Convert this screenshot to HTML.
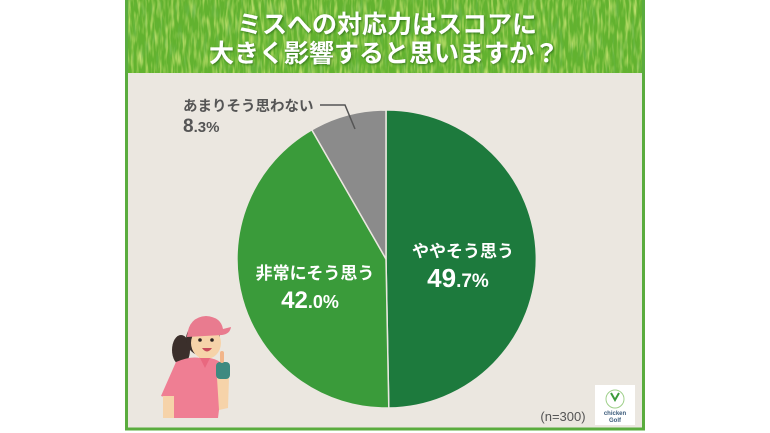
<!DOCTYPE html>
<html><head><meta charset="utf-8"><style>
html,body{margin:0;padding:0;background:#fff;}
svg{display:block;}
text{font-family:"Liberation Sans","Noto Sans CJK JP",sans-serif;font-weight:bold;}
</style></head><body>
<svg width="770" height="433" viewBox="0 0 770 433" xmlns="http://www.w3.org/2000/svg">
<defs>
<filter id="grass" x="0" y="0" width="100%" height="100%">
<feTurbulence type="fractalNoise" baseFrequency="0.35 0.06" numOctaves="2" seed="3" result="n"/>
<feColorMatrix in="n" type="matrix" values="0 0 0 0 0.72  0 0 0 0 0.86  0 0 0 0 0.22  1.8 0 0 0 -0.78" result="c"/>
<feComposite in="c" in2="SourceGraphic" operator="in"/>
</filter>
<filter id="grass2" x="0" y="0" width="100%" height="100%">
<feTurbulence type="fractalNoise" baseFrequency="0.25 0.05" numOctaves="2" seed="9" result="n"/>
<feColorMatrix in="n" type="matrix" values="0 0 0 0 0.15  0 0 0 0 0.48  0 0 0 0 0.1  1.5 0 0 0 -0.8" result="c"/>
<feComposite in="c" in2="SourceGraphic" operator="in"/>
</filter>
<filter id="ts" x="-10%" y="-20%" width="120%" height="150%">
<feDropShadow dx="1" dy="1" stdDeviation="1" flood-color="#1f5a10" flood-opacity="0.7"/>
</filter>
</defs>
<rect width="770" height="433" fill="#ffffff"/>
<!-- frame -->
<rect x="126.5" y="-2" width="517" height="431" fill="#ebe7e0" stroke="#5aac3e" stroke-width="3"/>
<!-- header grass -->
<rect x="128" y="0" width="514" height="73" fill="#62b22f"/>
<rect x="128" y="0" width="514" height="73" fill="#fff" filter="url(#grass)"/>
<rect x="128" y="0" width="514" height="73" fill="#fff" filter="url(#grass2)"/>
<text x="387" y="33" text-anchor="middle" font-size="25" fill="#ffffff" filter="url(#ts)">ミスへの対応力はスコアに</text>
<text x="384" y="62" text-anchor="middle" font-size="25" fill="#ffffff" filter="url(#ts)">大きく影響すると思いますか？</text>

<!-- pie -->
<g stroke="#ebe7e0" stroke-width="1.5" stroke-linejoin="round">
<path d="M386,259 L386,110 A149,149 0 0 1 388.8,408 Z" fill="#1d7a3d"/>
<path d="M386,259 L388.8,408 A149,149 0 0 1 311.77,129.8 Z" fill="#3a9b3a"/>
<path d="M386,259 L311.77,129.8 A149,149 0 0 1 386,110 Z" fill="#8b8b8b"/>
</g>

<!-- labels -->
<text x="463" y="257" text-anchor="middle" font-size="17" fill="#ffffff">ややそう思う</text>
<text x="458" y="287" text-anchor="middle" fill="#ffffff"><tspan font-size="26">49</tspan><tspan font-size="19">.7%</tspan></text>
<text x="315" y="279" text-anchor="middle" font-size="17" fill="#ffffff">非常にそう思う</text>
<text x="310" y="308" text-anchor="middle" fill="#ffffff"><tspan font-size="24">42</tspan><tspan font-size="18">.0%</tspan></text>

<text x="183" y="111" font-size="14.5" fill="#555555">あまりそう思わない</text>
<text x="183" y="132" fill="#555555"><tspan font-size="19">8</tspan><tspan font-size="15">.3%</tspan></text>
<polyline points="320,105 345,105 355,129" fill="none" stroke="#555555" stroke-width="1.5"/>

<text x="563" y="421" text-anchor="middle" font-size="13" style="font-weight:normal" fill="#555555">(n=300)</text>

<!-- logo -->
<rect x="595" y="385" width="40" height="40" fill="#ffffff"/>
<circle cx="615" cy="399" r="9" fill="none" stroke="#9fd08a" stroke-width="1"/>
<path d="M611,393 L615,400 L619,393" fill="none" stroke="#3b9b3a" stroke-width="2"/>
<text x="615" y="415" text-anchor="middle" font-size="6" fill="#3a5a7a">chicken</text>
<text x="615" y="422" text-anchor="middle" font-size="6" fill="#3a5a7a">Golf</text>

<!-- girl -->
<g>
<ellipse cx="181" cy="350" rx="9" ry="15" fill="#3b2f2b"/>
<circle cx="203" cy="339" r="17" fill="#3b2f2b"/>
<rect x="199" y="352" width="11" height="10" fill="#f3c79c"/>
<ellipse cx="206" cy="343" rx="15" ry="16" fill="#f6d3a9"/>
<path d="M187,336 Q189,317 206,316 Q221,317 223,329 L231,327 Q230,334 222,335 L187,337 Z" fill="#e97b8f"/>
<circle cx="200" cy="340" r="1.8" fill="#2b2220"/>
<circle cx="212" cy="340" r="1.8" fill="#2b2220"/>
<path d="M202,348 Q207,355 212,348 Z" fill="#c84a5a"/>
<path d="M176,362 Q190,356 200,358 L210,358 Q220,360 224,366 L222,385 L218,418 L168,418 L168,398 L161,396 Z" fill="#ef7e93"/>
<path d="M200,358 L205,368 L210,358 Z" fill="#e9687f"/>
<rect x="163" y="396" width="11" height="22" fill="#f6d3a9"/>
<path d="M217,378 L229,378 L228,408 L219,410 Z" fill="#f6d3a9"/>
<rect x="216" y="362" width="14" height="17" rx="4" fill="#3e8a80"/>
<rect x="220" y="351" width="4" height="12" rx="2" fill="#f2b58a"/>
</g>
</svg>
</body></html>
